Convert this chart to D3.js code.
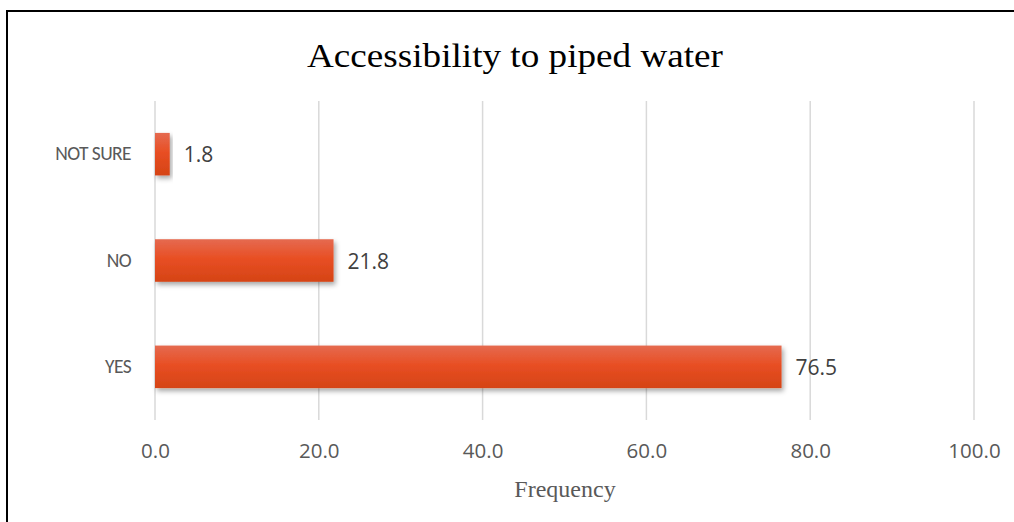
<!DOCTYPE html>
<html>
<head>
<meta charset="utf-8">
<script src="https://cdn.jsdelivr.net/npm/d3@7"></script>
<style>
  body { margin: 0; background: #fff; }
</style>
</head>
<body>
<script>
const width = 1014;
const height = 522;
const marginTop = 101;
const marginRight = 40;
const marginBottom = 102;
const marginLeft = 155;

const categories = ["NOT SURE", "NO", "YES"];
const values = [1.8, 21.8, 76.5];
const tickValues = [0, 20, 40, 60, 80, 100];

const sans = "Open Sans, Liberation Sans, sans-serif";
const serif = "Liberation Serif, Times New Roman, serif";

const svg = d3.select("body").append("svg")
  .attr("width", width)
  .attr("height", height);

// outer frame
svg.append("rect")
  .attr("x", 7)
  .attr("y", 11)
  .attr("width", width)
  .attr("height", height)
  .attr("fill", "none")
  .attr("stroke", "#000")
  .attr("stroke-width", 2);

const defs = svg.append("defs");
const grad = defs.append("linearGradient")
  .attr("id", "barGrad")
  .attr("x1", 0).attr("y1", 0).attr("x2", 0).attr("y2", 1);
grad.append("stop").attr("offset", "0%").attr("stop-color", "#e56a50");
grad.append("stop").attr("offset", "45%").attr("stop-color", "#e84f24");
grad.append("stop").attr("offset", "100%").attr("stop-color", "#d54315");

const shadow = defs.append("filter")
  .attr("id", "shadow")
  .attr("x", "-10%").attr("y", "-20%")
  .attr("width", "130%").attr("height", "160%");
shadow.append("feDropShadow")
  .attr("dx", 2).attr("dy", 3)
  .attr("stdDeviation", 2.5)
  .attr("flood-color", "#000")
  .attr("flood-opacity", 0.35);

const x = d3.scaleLinear()
  .domain([0, 100])
  .range([marginLeft, width - marginRight]);

const y = d3.scaleBand()
  .domain(categories)
  .range([marginTop, height - marginBottom])
  .paddingInner(0.6)
  .paddingOuter(0.3);

// title
svg.append("text")
  .text("Accessibility to piped water")
  .attr("x", 307)
  .attr("y", 67)
  .attr("textLength", 416)
  .attr("lengthAdjust", "spacingAndGlyphs")
  .attr("font-family", serif)
  .attr("font-size", "34px")
  .attr("fill", "#000");

// gridlines
svg.append("g")
  .selectAll("line")
  .data(tickValues)
  .join("line")
    .attr("x1", d => x(d))
    .attr("x2", d => x(d))
    .attr("y1", marginTop)
    .attr("y2", height - marginBottom)
    .attr("stroke", "#d9d9d9")
    .attr("stroke-width", 1.5);

// x axis labels
const xAxis = svg.append("g")
  .attr("transform", `translate(0,${height - marginBottom})`)
  .call(d3.axisBottom(x).tickValues(tickValues).tickFormat(d3.format(".1f")).tickSize(0).tickPadding(23));
xAxis.select(".domain").remove();
xAxis.selectAll("text")
  .attr("font-family", sans)
  .attr("font-size", "20.5px")
  .attr("fill", "#595959");

// y axis labels
const yAxis = svg.append("g")
  .attr("transform", `translate(${marginLeft},0)`)
  .call(d3.axisLeft(y).tickSize(0).tickPadding(24));
yAxis.select(".domain").remove();
yAxis.selectAll("text")
  .attr("font-family", "Carlito, " + sans)
  .attr("font-size", "19.5px")
  .attr("letter-spacing", "-0.6px")
  .attr("fill", "#595959");

// bars
svg.append("g")
  .selectAll("rect")
  .data(categories)
  .join("rect")
    .attr("x", x(0))
    .attr("y", d => y(d))
    .attr("width", (d, i) => x(values[i]) - x(0))
    .attr("height", y.bandwidth())
    .attr("fill", "url(#barGrad)")
    .attr("filter", "url(#shadow)");

// value labels
svg.append("g")
  .selectAll("text")
  .data(categories)
  .join("text")
    .text((d, i) => values[i].toFixed(1))
    .attr("x", (d, i) => x(values[i]) + 14)
    .attr("y", d => y(d) + y.bandwidth() / 2 + 8)
    .attr("font-family", sans)
    .attr("font-size", "21px")
    .attr("fill", "#404040");

// axis title
svg.append("text")
  .text("Frequency")
  .attr("x", 565)
  .attr("y", 497)
  .attr("text-anchor", "middle")
  .attr("font-family", serif)
  .attr("font-size", "24px")
  .attr("fill", "#595959");
</script>
</body>
</html>
